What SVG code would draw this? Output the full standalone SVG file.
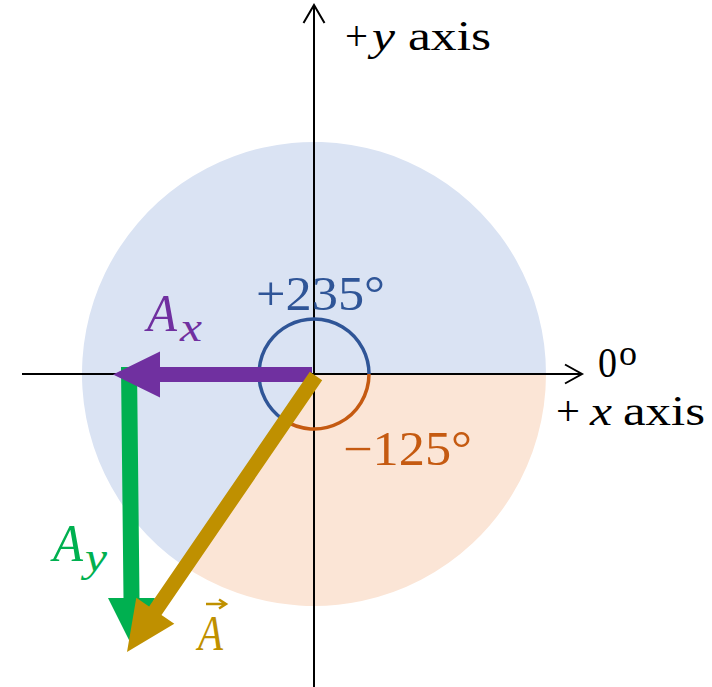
<svg xmlns="http://www.w3.org/2000/svg" width="712" height="687" viewBox="0 0 712 687">
<style>
text{font-family:"Liberation Serif","Times New Roman",serif;}
.it{font-style:italic;}
.ax{stroke:#000;stroke-width:2;fill:none;}
.lbl{font-size:42px;fill:#000;}
</style>
<rect width="712" height="687" fill="#fff"/>
<g id="regions">
<path d="M314,374 L180.9,564 A232,232 0 1 1 546,374 Z" fill="#dae3f3"/>
<path d="M314,374 L546,374 A232,232 0 0 1 180.9,564 Z" fill="#fbe5d6"/>
</g>
<g id="axes">
<path class="ax" d="M22,374 H581"/>
<path class="ax" d="M565,364.5 L582,374 L565,383.5"/>
<path class="ax" d="M314,687 V6"/>
<path class="ax" d="M303.5,23 L314,5 L324.5,23"/>
</g>
<g id="angle-arcs">
<path d="M369,374 A55,55 0 1 0 282.45,419.05" fill="none" stroke="#2f5597" stroke-width="3.5"/>
<path d="M369,374 A55,55 0 0 1 282.45,419.05" fill="none" stroke="#c55a11" stroke-width="3.5"/>
</g>
<g id="connectors">
<polygon id="Ay-arrow" points="121,367 137,367 139.5,598 155,598 132,646 108,598 123.5,598" fill="#00b050"/>
<polygon id="Ax-arrow" points="312,367 160,367 160,351.5 113,374.5 160,397.5 160,382 312,382" fill="#7030a0"/>
<polygon id="A-arrow" points="309.8,371.8 322.2,380.2 161.5,615 174.3,623.8 127,652 136.3,597.8 149.1,606.6" fill="#bf9000"/>
</g>
<g id="y-axis-label">
<text class="lbl" x="345" y="50" textLength="23" lengthAdjust="spacingAndGlyphs">+</text>
<text class="lbl it" x="372" y="50" textLength="23" lengthAdjust="spacingAndGlyphs">y</text>
<text class="lbl" x="408" y="50" textLength="83" lengthAdjust="spacingAndGlyphs">axis</text>
</g>
<g id="x-axis-label">
<text class="lbl" x="556" y="425" textLength="24" lengthAdjust="spacingAndGlyphs">+</text>
<text class="lbl it" x="590" y="425" textLength="22" lengthAdjust="spacingAndGlyphs">x</text>
<text class="lbl" x="623" y="425" textLength="82" lengthAdjust="spacingAndGlyphs">axis</text>
<text x="598" y="377" font-size="42" textLength="19" lengthAdjust="spacingAndGlyphs">0</text>
<text x="619" y="365" font-size="36" textLength="18" lengthAdjust="spacingAndGlyphs">o</text>
</g>
<g id="angle-pos">
<text x="256" y="310" font-size="48" fill="#2f5597" textLength="129" lengthAdjust="spacingAndGlyphs">+235°</text>
</g>
<g id="angle-neg">
<text x="343" y="465" font-size="48" fill="#c55a11" textLength="129" lengthAdjust="spacingAndGlyphs">−125°</text>
</g>
<g id="Ax-label" fill="#7030a0">
<text class="it" x="147" y="331" font-size="52" textLength="30" lengthAdjust="spacingAndGlyphs">A</text>
<text class="it" x="180" y="341" font-size="42" textLength="22" lengthAdjust="spacingAndGlyphs">x</text>
</g>
<g id="Ay-label" fill="#00b050">
<text class="it" x="53" y="561" font-size="52" textLength="30" lengthAdjust="spacingAndGlyphs">A</text>
<text class="it" x="85" y="571" font-size="42" textLength="22" lengthAdjust="spacingAndGlyphs">y</text>
</g>
<g id="A-label" fill="#bf9000">
<text class="it" x="198" y="650" font-size="50" textLength="25" lengthAdjust="spacingAndGlyphs">A</text>
<path d="M206,604 H225 M219,599.5 L226,604 L219,608.5" fill="none" stroke="#bf9000" stroke-width="2.5"/>
</g>
</svg>
